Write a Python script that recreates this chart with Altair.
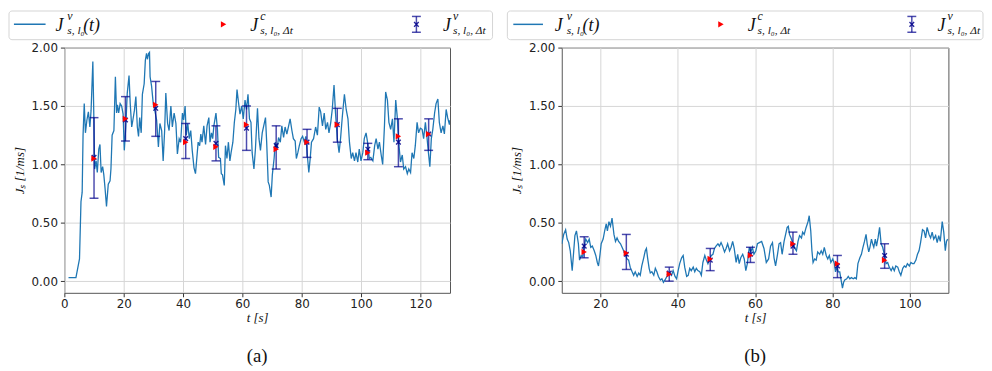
import altair as alt
import pandas as pd

# ---------------- panel (a): continuous series J^v_{s,l0}(t)
t_a = [1.4, 3.9, 5.1, 5.6, 6.0, 6.3, 6.7, 7.1, 7.6, 8.1, 8.6, 9.0, 9.6, 9.9, 10.2, 10.7, 11.1, 11.6, 12.0, 12.4,
       12.9, 13.3, 13.7, 14.2, 14.8, 15.4, 15.7, 16.1, 16.7, 17.2, 17.6, 17.9, 18.3, 18.8, 19.3, 19.8, 20.2, 20.7,
       21.2, 21.8, 22.2, 22.7, 23.1, 23.6, 24.1, 24.6, 25.0, 25.4, 25.9, 26.3, 26.9, 27.3, 27.7, 28.0, 28.4, 28.7,
       28.9, 29.4, 30.0, 30.5, 31.1, 31.7, 32.2, 32.8, 33.3, 33.8, 34.2, 34.8, 35.3, 35.9, 36.4, 37.0, 37.6, 38.1,
       38.7, 39.2, 39.8, 40.2, 40.7, 41.1, 41.6, 42.1, 42.6, 43.1, 43.7, 44.2, 45.1, 45.6, 46.0, 46.4, 47.0, 47.6,
       48.1, 48.7, 49.1, 49.6, 50.0, 50.4, 51.1, 51.6, 52.0, 52.6, 52.9, 53.3, 53.9, 54.3, 54.8, 55.3, 55.8, 56.2,
       56.8, 57.3, 57.8, 58.2, 58.7, 59.2, 59.8, 60.3, 60.9, 61.4, 61.9, 62.4, 62.9, 63.3, 63.9, 64.4, 65.1, 65.6,
       66.1, 66.7, 67.2, 67.8, 68.2, 68.7, 69.1, 69.7, 70.1, 70.7, 71.1, 71.7, 72.2, 72.8, 73.3, 73.9, 74.4, 75.0,
       75.6, 76.1, 76.7, 77.2, 77.8, 78.2, 78.7, 79.2, 79.8, 80.3, 80.9, 81.4, 82.0, 82.4, 82.9, 83.3, 84.0, 84.7,
       85.3, 85.9, 86.4, 87.0, 87.6, 88.1, 88.7, 89.2, 89.8, 90.3, 90.9, 91.4, 92.0, 92.6, 93.1, 93.7, 94.4, 95.0,
       95.6, 96.1, 96.7, 97.2, 97.8, 98.3, 98.9, 99.4, 100.0, 100.6, 101.1, 101.7, 102.2, 102.8, 103.3, 104.0,
       104.6, 105.1, 105.7, 106.2, 106.8, 107.3, 107.9, 108.3, 108.9, 109.4, 110.0, 110.6, 111.1, 111.7, 112.2,
       112.8, 113.3, 113.9, 114.4, 115.0, 115.6, 116.1, 116.7, 117.2, 117.8, 118.3, 118.9, 119.4, 120.0, 120.6,
       121.1, 121.7, 122.2, 122.8, 123.2, 123.7, 124.2, 124.8, 125.3, 125.9, 126.4, 127.0, 127.6, 128.1, 128.7,
       129.2, 129.8, 130.0]
j_a = [0.03, 0.03, 0.19, 0.68, 0.76, 1.25, 1.52, 1.27, 1.38, 1.45, 1.32, 1.46, 1.88, 1.46, 0.96, 1.03, 0.93, 1.13,
       1.17, 0.93, 0.98, 0.91, 0.80, 0.64, 0.83, 0.86, 0.96, 1.25, 1.29, 1.75, 1.44, 1.51, 1.44, 1.52, 1.50, 1.43,
       1.12, 1.32, 1.61, 1.76, 1.52, 1.32, 1.38, 1.46, 1.58, 1.32, 1.24, 1.40, 1.27, 1.60, 1.69, 1.89, 1.95, 1.90,
       1.95, 1.96, 1.75, 1.67, 1.51, 1.46, 1.38, 1.15, 1.35, 1.29, 1.03, 1.29, 1.61, 1.35, 1.29, 1.50, 1.32, 1.44,
       1.35, 1.09, 1.22, 1.19, 1.44, 1.38, 1.50, 1.25, 1.35, 1.22, 1.29, 1.12, 0.97, 0.92, 1.19, 1.16, 1.26, 1.19,
       1.33, 1.17, 1.33, 1.40, 1.19, 1.27, 1.22, 1.33, 1.44, 1.30, 1.06, 1.05, 0.92, 0.91, 0.82, 1.16, 1.05, 1.19,
       1.03, 1.10, 1.19, 1.36, 1.47, 1.64, 1.53, 1.43, 1.50, 1.39, 1.55, 1.47, 1.60, 1.39, 1.36, 1.10, 0.96, 1.13,
       1.48, 1.22, 1.12, 1.27, 1.33, 1.40, 1.19, 0.85, 0.82, 0.72, 0.91, 1.05, 1.19, 1.13, 1.23, 1.19, 1.33, 1.23,
       1.32, 1.26, 1.33, 1.39, 1.29, 1.22, 1.20, 1.05, 1.10, 1.16, 1.22, 1.24, 1.19, 1.24, 1.05, 0.93, 1.06, 1.19,
       1.22, 1.32, 1.25, 1.49, 1.45, 1.33, 1.44, 1.30, 1.36, 1.27, 1.36, 1.47, 1.68, 1.44, 1.22, 1.10, 1.22, 1.41,
       1.60, 1.47, 1.39, 1.19, 1.05, 1.10, 1.03, 1.10, 1.02, 1.13, 1.03, 1.10, 1.22, 1.27, 1.19, 1.05, 1.06, 1.03,
       1.16, 1.22, 1.13, 1.19, 1.08, 1.00, 1.33, 1.62, 1.55, 1.36, 1.30, 1.39, 1.19, 1.55, 1.41, 1.16, 1.02, 1.08,
       0.96, 0.98, 0.92, 0.96, 0.93, 1.10, 1.05, 1.16, 1.36, 1.27, 1.31, 1.30, 1.22, 1.36, 1.24, 1.08, 0.98, 1.22,
       1.30, 1.44, 1.52, 1.56, 1.36, 1.27, 1.33, 1.26, 1.47, 1.40, 1.34, 1.38]

# panel (a): windowed estimates
tw_a = [10.0, 20.6, 30.8, 40.9, 51.1, 61.4, 71.4, 81.8, 92.0, 102.3, 112.6, 122.8]
jc_a = [1.05, 1.39, 1.51, 1.19, 1.15, 1.34, 1.13, 1.19, 1.34, 1.10, 1.24, 1.26]
jv_a = [1.06, 1.38, 1.48, 1.22, 1.18, 1.31, 1.16, 1.19, 1.34, 1.13, 1.19, 1.26]
lo_a = [0.71, 1.20, 1.24, 1.05, 1.03, 1.12, 0.96, 1.06, 1.19, 1.04, 0.98, 1.12]
hi_a = [1.40, 1.58, 1.71, 1.35, 1.33, 1.50, 1.33, 1.30, 1.48, 1.18, 1.39, 1.39]

# ---------------- panel (b): continuous series
t_b = [10.0, 10.5, 11.0, 11.4, 11.8, 12.2, 12.7, 13.1, 13.4, 13.8, 14.3, 14.6, 15.0, 15.4, 15.8, 16.2, 16.7, 17.1,
       17.5, 17.9, 18.4, 18.8, 19.2, 19.5, 19.9, 20.2, 20.7, 21.1, 21.5, 21.8, 22.2, 22.6, 23.0, 23.5, 23.9, 24.3,
       24.7, 25.2, 25.6, 26.0, 26.5, 26.9, 27.3, 27.7, 28.2, 28.6, 29.0, 29.5, 29.9, 30.3, 30.7, 31.2, 31.6, 31.9,
       32.2, 32.6, 32.9, 33.3, 33.8, 34.2, 34.6, 35.0, 35.5, 35.9, 36.3, 36.7, 37.2, 37.6, 38.0, 38.4, 38.8, 39.3,
       39.7, 40.1, 40.5, 41.0, 41.4, 41.8, 42.3, 42.7, 43.1, 43.5, 44.0, 44.4, 44.8, 45.2, 45.7, 46.1, 46.5, 47.0,
       47.4, 47.8, 48.2, 48.7, 49.1, 49.5, 49.9, 50.4, 50.8, 51.2, 51.6, 52.1, 52.5, 52.9, 53.4, 53.8, 54.2, 54.6,
       55.1, 55.5, 55.9, 56.3, 56.8, 57.2, 57.6, 58.0, 58.5, 58.9, 59.3, 59.7, 60.2, 60.6, 61.1, 61.7, 62.3, 62.9,
       63.5, 64.0, 64.5, 64.9, 65.3, 65.8, 66.2, 66.6, 67.0, 67.5, 67.9, 68.3, 68.6, 68.9, 69.3, 69.8, 70.3, 70.7,
       71.1, 71.5, 72.0, 72.3, 72.7, 73.2, 73.7, 74.0, 74.4, 74.7, 75.0, 75.4, 75.8, 76.2, 76.7, 77.1, 77.5, 77.9,
       78.4, 78.8, 79.2, 79.6, 80.1, 80.5, 80.8, 81.2, 81.5, 81.9, 82.2, 82.6, 82.9, 83.2, 83.7, 84.1, 84.5, 84.9,
       85.4, 85.8, 86.2, 86.6, 87.1, 87.5, 87.9, 88.3, 88.7, 89.0, 89.4, 89.7, 90.1, 90.4, 90.7, 91.1, 91.4, 91.8,
       92.2, 92.6, 93.0, 93.5, 93.9, 94.3, 94.7, 95.2, 95.6, 96.0, 96.4, 96.9, 97.3, 97.7, 98.2, 98.6, 99.0, 99.4,
       99.9, 100.3, 100.7, 101.1, 101.6, 102.0, 102.4, 102.8, 103.3, 103.7, 104.1, 104.5, 105.0, 105.4, 105.8,
       106.2, 106.7, 107.1, 107.5, 107.9, 108.4, 108.8, 109.2, 109.5, 109.8]
j_b = [0.32, 0.40, 0.44, 0.36, 0.33, 0.26, 0.09, 0.26, 0.39, 0.43, 0.32, 0.18, 0.22, 0.21, 0.30, 0.36, 0.33, 0.36,
       0.29, 0.30, 0.26, 0.22, 0.16, 0.13, 0.23, 0.32, 0.36, 0.43, 0.49, 0.43, 0.51, 0.47, 0.54, 0.40, 0.34, 0.37,
       0.34, 0.32, 0.29, 0.26, 0.22, 0.19, 0.18, 0.12, 0.08, 0.05, 0.08, 0.04, 0.07, 0.05, 0.13, 0.20, 0.26, 0.28,
       0.20, 0.11, 0.07, 0.08, 0.05, 0.11, 0.08, 0.04, 0.01, 0.02, -0.01, 0.01, 0.04, 0.05, 0.07, 0.05, 0.09, 0.04,
       0.02, 0.09, 0.15, 0.20, 0.22, 0.12, 0.04, 0.05, 0.11, 0.09, 0.12, 0.08, 0.11, 0.09, 0.08, 0.05, 0.16, 0.22,
       0.18, 0.15, 0.19, 0.22, 0.23, 0.28, 0.30, 0.32, 0.30, 0.33, 0.30, 0.25, 0.28, 0.32, 0.26, 0.29, 0.34, 0.28,
       0.16, 0.23, 0.15, 0.20, 0.23, 0.19, 0.09, 0.15, 0.29, 0.25, 0.29, 0.23, 0.26, 0.32, 0.33, 0.34, 0.28, 0.16,
       0.19, 0.30, 0.33, 0.20, 0.13, 0.23, 0.32, 0.33, 0.23, 0.34, 0.40, 0.46, 0.47, 0.40, 0.37, 0.32, 0.28, 0.26,
       0.34, 0.39, 0.37, 0.42, 0.40, 0.46, 0.51, 0.56, 0.43, 0.26, 0.16, 0.19, 0.18, 0.25, 0.23, 0.26, 0.23, 0.29,
       0.22, 0.19, 0.22, 0.16, 0.19, 0.15, 0.08, 0.12, 0.08, 0.08, 0.02, -0.06, -0.01, 0.01, 0.02, 0.04, 0.02, 0.03,
       0.02, 0.03, 0.02, 0.15, 0.20, 0.23, 0.29, 0.34, 0.40, 0.32, 0.25, 0.29, 0.36, 0.32, 0.29, 0.36, 0.30, 0.37,
       0.46, 0.32, 0.29, 0.22, 0.15, 0.16, 0.12, 0.09, 0.12, 0.09, 0.13, 0.12, 0.08, 0.05, 0.11, 0.13, 0.12, 0.15,
       0.13, 0.16, 0.15, 0.15, 0.18, 0.23, 0.26, 0.33, 0.44, 0.43, 0.37, 0.46, 0.40, 0.37, 0.42, 0.36, 0.39, 0.33,
       0.39, 0.34, 0.51, 0.42, 0.26, 0.34, 0.36]

# panel (b): windowed estimates
tw_b = [15.8, 26.7, 37.8, 48.4, 58.8, 69.8, 81.3, 93.5]
jc_b = [0.25, 0.24, 0.06, 0.19, 0.22, 0.32, 0.15, 0.18]
jv_b = [0.30, 0.23, 0.07, 0.18, 0.23, 0.30, 0.13, 0.22]
lo_b = [0.20, 0.10, 0.00, 0.09, 0.16, 0.23, 0.03, 0.11]
hi_b = [0.38, 0.40, 0.12, 0.28, 0.29, 0.42, 0.22, 0.32]

XTICKS_A = [0, 20, 40, 60, 80, 100, 120]
XTICKS_B = [20, 40, 60, 80, 100]
YTICKS = [0.0, 0.25, 0.5, 0.75, 1.0, 1.25, 1.5, 1.75, 2.0]

LINE_C = "#1f77b4"
ERR_C = "#00008b"
H = 248
SERIF = "Liberation Serif"
ONE = pd.DataFrame({"k": [0]})
XSHAPE = "M-1,-1L1,1M1,-1L-1,1"


def txt(s, x, y, size, italic=True, align="left", baseline="alphabetic", font=SERIF):
    return alt.Chart(ONE).mark_text(
        text=s, font=font, fontSize=size, fontStyle="italic" if italic else "normal",
        align=align, baseline=baseline, color="#111"
    ).encode(x=alt.value(x), y=alt.value(y))


def legend(box0, box1, ln0, ln1, trix, errx, j1, j2, j3):
    cy = -23.5
    items = [
        alt.Chart(ONE).mark_rect(fill="white", stroke="#d4d4d4", strokeWidth=1, cornerRadius=3).encode(
            x=alt.value(box0), x2=alt.value(box1), y=alt.value(-37), y2=alt.value(-8)),
        alt.Chart(ONE).mark_rule(color=LINE_C, strokeWidth=1.5).encode(
            x=alt.value(ln0), x2=alt.value(ln1), y=alt.value(cy)),
        alt.Chart(ONE).mark_point(shape="triangle-right", filled=True, color="red", size=40, opacity=1).encode(
            x=alt.value(trix), y=alt.value(cy)),
        alt.Chart(ONE).mark_rule(color=ERR_C, opacity=0.7, strokeWidth=1.5).encode(
            x=alt.value(errx), y=alt.value(cy - 8), y2=alt.value(cy + 8)),
        alt.Chart(ONE).mark_rule(color=ERR_C, opacity=0.7, strokeWidth=1.5).encode(
            x=alt.value(errx - 4.5), x2=alt.value(errx + 4.5), y=alt.value(cy - 8)),
        alt.Chart(ONE).mark_rule(color=ERR_C, opacity=0.7, strokeWidth=1.5).encode(
            x=alt.value(errx - 4.5), x2=alt.value(errx + 4.5), y=alt.value(cy + 8)),
        alt.Chart(ONE).mark_point(shape=XSHAPE, filled=False, color=ERR_C, size=22, strokeWidth=1.4,
                                  opacity=0.85).encode(x=alt.value(errx), y=alt.value(cy)),
    ]
    for jx, sup, sub, tail, off in [(j1, "v", "s, l\u2080", "(t)", 12), (j2, "c", "s, l\u2080, \u0394t", None, 10),
                                    (j3, "v", "s, l\u2080, \u0394t", None, 10)]:
        items.append(txt("J", jx, -17, 18))
        items.append(txt(sup, jx + off, -27.5, 12))
        items.append(txt(sub, jx + off, -13.5, 11.5))
        if tail:
            items.append(txt(tail, jx + 28, -17, 18))
    return items


def panel(t, j, tw, jc, jv, lo, hi, xdom, xticks, width, caption, leg):
    line_df = pd.DataFrame({"t": t, "J": j})
    win_df = pd.DataFrame({"t": tw, "c": jc, "v": jv, "lo": lo, "hi": hi})
    xs = alt.Scale(domain=xdom, nice=False, zero=False)
    ys = alt.Scale(domain=[-0.1, 2.0], nice=False, zero=False)
    xax = alt.Axis(values=xticks, format="d", title="t  [s]", labelFlush=False, grid=True,
                   tickSize=4, labelPadding=2, titlePadding=2)
    yax = alt.Axis(values=YTICKS, format=".2f", title="J\u209b [1/ms]", grid=True,
                   tickSize=4, labelPadding=3, titlePadding=5)
    line = alt.Chart(line_df).mark_line(color=LINE_C, strokeWidth=1.3, clip=True).encode(
        x=alt.X("t:Q", scale=xs, axis=xax), y=alt.Y("J:Q", scale=ys, axis=yax))
    win = alt.Chart(win_df)
    bars = win.mark_rule(color=ERR_C, opacity=0.7, strokeWidth=1.5).encode(
        x="t:Q", y="lo:Q", y2="hi:Q")
    cap_hi = win.mark_rule(color=ERR_C, opacity=0.7, strokeWidth=1.5, xOffset=-4.5, x2Offset=4.5).encode(
        x="t:Q", x2="t:Q", y="hi:Q")
    cap_lo = win.mark_rule(color=ERR_C, opacity=0.7, strokeWidth=1.5, xOffset=-4.5, x2Offset=4.5).encode(
        x="t:Q", x2="t:Q", y="lo:Q")
    xm = win.mark_point(shape=XSHAPE, filled=False, color=ERR_C, size=22, strokeWidth=1.4, opacity=0.85).encode(
        x="t:Q", y="v:Q")
    tri = win.mark_point(shape="triangle-right", filled=True, color="red", size=40, opacity=1).encode(
        x="t:Q", y="c:Q")
    cap = txt(caption, width / 2, 312, 19, italic=False, align="center", baseline="middle")
    return alt.layer(line, bars, cap_hi, cap_lo, xm, tri, *leg, cap).properties(width=width, height=H)


pa = panel(t_a, j_a, tw_a, jc_a, jv_a, lo_a, hi_a, [0, 130], XTICKS_A, 390, "(a)",
           legend(-56, 433, -51, -19, 161, 356, -9, 188, 383))
pb = panel(t_b, j_b, tw_b, jc_b, jv_b, lo_b, hi_b, [10, 110], XTICKS_B, 391, "(b)",
           legend(-55, 426, -49, -19, 161, 354, -7, 188, 380))

chart = alt.hconcat(pa, pb, spacing=13).properties(padding=0).configure_view(
    stroke="#555", strokeWidth=1
).configure_axis(
    gridColor="#d6d6d6", gridWidth=1, domain=False, tickColor="#333", labelColor="#222",
    labelFont="DejaVu Sans", labelFontSize=12, titleFont=SERIF, titleFontSize=13,
    titleFontStyle="italic", titleFontWeight="normal", titleColor="#111"
)

chart.save("out.html", embed_options={"renderer": "svg", "actions": False})
